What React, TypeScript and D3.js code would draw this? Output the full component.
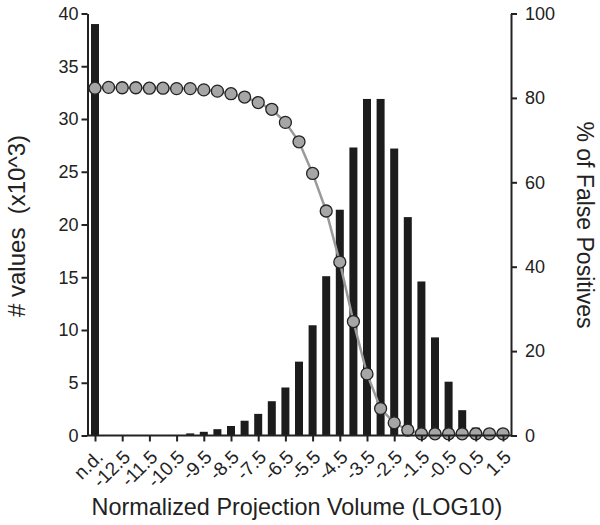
import React, { useRef, useEffect } from "react";
import * as d3 from "d3";

// x categories: "n.d." then log10 bins from -13 to 1.5 in 0.5 steps
const categories = [
  "n.d.", "-13", "-12.5", "-12", "-11.5", "-11", "-10.5", "-10", "-9.5", "-9",
  "-8.5", "-8", "-7.5", "-7", "-6.5", "-6", "-5.5", "-5", "-4.5", "-4",
  "-3.5", "-3", "-2.5", "-2", "-1.5", "-1", "-0.5", "0", "0.5", "1", "1.5",
];

// only every other category gets a tick + label
const tickLabels = [
  "n.d.", "-12.5", "-11.5", "-10.5", "-9.5", "-8.5", "-7.5", "-6.5",
  "-5.5", "-4.5", "-3.5", "-2.5", "-1.5", "-0.5", "0.5", "1.5",
];

// # values (x10^3), left axis
const counts = [
  39, 0, 0, 0, 0, 0, 0.05, 0.2, 0.35, 0.6,
  0.9, 1.4, 2.05, 3.25, 4.55, 7.0, 10.45, 15.1, 21.4, 27.3,
  31.9, 31.9, 27.2, 20.7, 14.6, 9.3, 5.1, 2.4, 0.75, 0.1, 0.02,
];

// % of false positives, right axis
const falsePos = [
  82.3, 82.5, 82.4, 82.4, 82.3, 82.3, 82.2, 82.2, 81.9, 81.6,
  81.0, 80.2, 78.9, 77.3, 74.2, 69.6, 62.1, 53.2, 41.1, 27.0,
  14.6, 6.4, 3.0, 1.3, 0.4, 0.4, 0.4, 0.4, 0.4, 0.4, 0.4,
];

const leftTicks = [0, 5, 10, 15, 20, 25, 30, 35, 40];
const rightTicks = [0, 20, 40, 60, 80, 100];

const Chart = ({ width, height }: { width: number; height: number }) => {
  const ref = useRef<SVGSVGElement>(null);

  useEffect(() => {
    const svg = d3.select(ref.current);
    svg.selectAll("*").remove();

    const axisLeftX = 87.5;
    const axisRightX = 511;
    const top = 13.5;
    const bottom = 435.5;
    const ink = "#222";
    const font = "Liberation Sans, Arial, sans-serif";

    const x = d3.scalePoint<string>().domain(categories).range([95, 503]);
    const yL = d3.scaleLinear().domain([0, 40]).range([bottom, top]);
    const yR = d3.scaleLinear().domain([0, 100]).range([bottom, top]);

    const barW = 8;

    // bars
    svg.append("g")
      .selectAll("rect")
      .data(counts)
      .enter()
      .append("rect")
      .attr("x", (d, i) => x(categories[i])! - barW / 2)
      .attr("y", (d) => yL(d))
      .attr("width", barW)
      .attr("height", (d) => bottom - yL(d))
      .attr("fill", "#1c1c1c");

    // false positive line
    const line = d3.line<number>()
      .x((d, i) => x(categories[i])!)
      .y((d) => yR(d));

    svg.append("path")
      .datum(falsePos)
      .attr("d", line)
      .attr("fill", "none")
      .attr("stroke", "#9a9a9a")
      .attr("stroke-width", 2.5);

    svg.append("g")
      .selectAll("circle")
      .data(falsePos)
      .enter()
      .append("circle")
      .attr("cx", (d, i) => x(categories[i])!)
      .attr("cy", (d) => yR(d))
      .attr("r", 6)
      .attr("fill", "#a6a6a6")
      .attr("stroke", ink)
      .attr("stroke-width", 1.3);

    // left axis
    const gl = svg.append("g")
      .attr("transform", `translate(${axisLeftX},0)`)
      .call(d3.axisLeft(yL).tickValues(leftTicks).tickSize(6).tickSizeOuter(0).tickPadding(3));
    gl.select(".domain").attr("stroke", ink).attr("stroke-width", 2);
    gl.selectAll(".tick line").attr("stroke", ink).attr("stroke-width", 2);
    gl.selectAll(".tick text")
      .attr("fill", ink)
      .style("font-family", font)
      .style("font-size", "18px");

    // right axis
    const gr = svg.append("g")
      .attr("transform", `translate(${axisRightX},0)`)
      .call(d3.axisRight(yR).tickValues(rightTicks).tickSize(6).tickSizeOuter(0).tickPadding(8));
    gr.select(".domain").attr("stroke", ink).attr("stroke-width", 2);
    gr.selectAll(".tick line").attr("stroke", ink).attr("stroke-width", 2);
    gr.selectAll(".tick text")
      .attr("fill", ink)
      .style("font-family", font)
      .style("font-size", "18px");

    // x axis
    svg.append("line")
      .attr("x1", axisLeftX)
      .attr("x2", axisRightX)
      .attr("y1", bottom)
      .attr("y2", bottom)
      .attr("stroke", ink)
      .attr("stroke-width", 2);

    const gx = svg.append("g")
      .attr("transform", `translate(0,${bottom})`)
      .call(d3.axisBottom(x).tickValues(tickLabels).tickSize(6).tickSizeOuter(0));
    gx.select(".domain").remove();
    gx.selectAll(".tick line").attr("stroke", ink).attr("stroke-width", 2);
    gx.selectAll(".tick text")
      .attr("fill", ink)
      .attr("x", 0)
      .attr("y", 0)
      .attr("dy", "0.35em")
      .attr("transform", "translate(4,18) rotate(-45)")
      .style("text-anchor", "end")
      .style("font-family", font)
      .style("font-size", "19px");

    // axis titles
    svg.append("text")
      .attr("x", 297)
      .attr("y", 515)
      .attr("text-anchor", "middle")
      .attr("fill", ink)
      .style("font-family", font)
      .style("font-size", "23.4px")
      .text("Normalized Projection Volume (LOG10)");

    svg.append("text")
      .attr("transform", "translate(25,226) rotate(-90)")
      .attr("text-anchor", "middle")
      .attr("fill", ink)
      .style("font-family", font)
      .style("font-size", "24px")
      .style("white-space", "pre")
      .text("# values  (x10^3)");

    svg.append("text")
      .attr("transform", "translate(577,225) rotate(90)")
      .attr("text-anchor", "middle")
      .attr("fill", ink)
      .style("font-family", font)
      .style("font-size", "23px")
      .text("% of False Positives");
  }, [width, height]);

  return (
    <svg
      ref={ref}
      width={width}
      height={height}
      style={{ position: "absolute", left: 0, top: 0, background: "#fff" }}
    />
  );
};

export default function App() {
  return <Chart width={600} height={525} />;
}
